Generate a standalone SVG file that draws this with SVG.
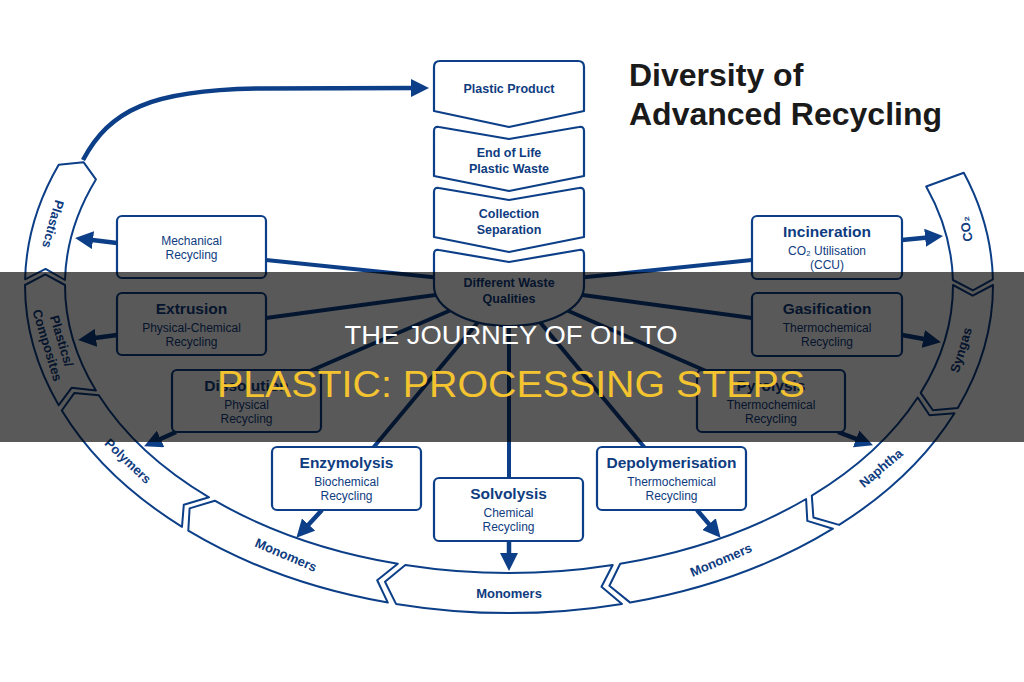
<svg xmlns="http://www.w3.org/2000/svg" width="1024" height="682" viewBox="0 0 1024 682">
<defs>
<style>
.bx{fill:#fff;stroke:#0c3f87;stroke-width:2.2;stroke-linejoin:round}
.seg{fill:#fff;stroke:#0c3f87;stroke-width:2;stroke-linejoin:round}
.ln{stroke:#0c3f87;stroke-width:4;fill:none}
.ar{stroke:#0c3f87;stroke-width:4.5;fill:none;marker-end:url(#ah)}
.h{font-family:"Liberation Sans",Arial,sans-serif;font-weight:bold;font-size:15.5px;fill:#0f3c80;text-anchor:middle}
.s{font-family:"Liberation Sans","DejaVu Sans",Arial,sans-serif;font-size:12px;fill:#0f3c80;text-anchor:middle}
.c{font-family:"Liberation Sans",Arial,sans-serif;font-weight:bold;font-size:12.5px;fill:#0f3c80;text-anchor:middle}
.g{font-family:"Liberation Sans","DejaVu Sans",Arial,sans-serif;font-weight:bold;font-size:13px;fill:#0f3c80;text-anchor:middle;dominant-baseline:central}
.t{font-family:"Liberation Sans",Arial,sans-serif;font-weight:bold;font-size:32px;fill:#1a1a1a}
</style>
<marker id="ah" viewBox="0 0 18 18" refX="5" refY="9" markerWidth="18" markerHeight="18" markerUnits="userSpaceOnUse" orient="auto"><path d="M0,0 L18,9 L0,18 z" fill="#0c3f87"/></marker>
</defs>
<rect width="1024" height="682" fill="#fff"/>

<g id="title">
<text class="t" x="629" y="86">Diversity of</text>
<text class="t" x="629" y="125">Advanced Recycling</text>
</g>

<g id="connectors">
<line class="ln" x1="509" y1="285" x2="266" y2="260"/>
<line class="ln" x1="509" y1="285" x2="266" y2="318"/>
<line class="ln" x1="509" y1="285" x2="310" y2="371"/>
<line class="ln" x1="509" y1="285" x2="373" y2="448"/>
<line class="ln" x1="509" y1="285" x2="509" y2="479"/>
<line class="ln" x1="509" y1="285" x2="645" y2="448"/>
<line class="ln" x1="509" y1="285" x2="706" y2="371"/>
<line class="ln" x1="509" y1="285" x2="752" y2="318"/>
<line class="ln" x1="509" y1="285" x2="752" y2="260"/>
<path class="ar" d="M83,160 C110,110 150,90 260,88.5 L416,88"/>
<line class="ar" x1="117" y1="243" x2="88" y2="239.5"/>
<line class="ar" x1="117" y1="335" x2="91" y2="338.4"/>
<line class="ar" x1="176" y1="432" x2="156" y2="441"/>
<line class="ar" x1="322" y1="510" x2="305.2" y2="528.2"/>
<line class="ar" x1="509" y1="541" x2="509" y2="558"/>
<line class="ar" x1="697" y1="510" x2="712.2" y2="527.9"/>
<line class="ar" x1="838" y1="432" x2="860.8" y2="440.7"/>
<line class="ar" x1="902" y1="335" x2="928.2" y2="339.8"/>
<line class="ar" x1="902" y1="240" x2="930.1" y2="237.2"/>
</g>

<g id="plastic-product">
<path class="bx" d="M434,67 Q434,61 440,61 L578,61 Q584,61 584,67 L584,111 L509,127 L434,111 Z"/>
<text class="c" x="509" y="93">Plastic Product</text>
</g>
<g id="end-of-life">
<path class="bx" d="M434,131 Q434,126 439,127 L509,139 L579,127 Q584,126 584,131 L584,176 L509,191 L434,176 Z"/>
<text class="c" x="509" y="157">End of Life</text>
<text class="c" x="509" y="173">Plastic Waste</text>
</g>
<g id="collection">
<path class="bx" d="M434,192 Q434,187 439,188 L509,200 L579,188 Q584,187 584,192 L584,237 L509,252 L434,237 Z"/>
<text class="c" x="509" y="218">Collection</text>
<text class="c" x="509" y="234">Separation</text>
</g>
<g id="waste-qualities">
<path class="bx" d="M434,254 Q434,249 439,250 L509,262 L579,250 Q584,249 584,254 L584,286 A75,40 0 0 1 434,286 Z"/>
<text class="c" x="509" y="287">Different Waste</text>
<text class="c" x="509" y="303">Qualities</text>
</g>

<g id="mechanical">
<rect class="bx" x="117" y="216" width="149" height="62" rx="5"/>
<text class="s" x="191.5" y="245">Mechanical</text>
<text class="s" x="191.5" y="259">Recycling</text>
</g>
<g id="extrusion">
<rect class="bx" x="117" y="293" width="149" height="62" rx="5"/>
<text class="h" x="191.5" y="314">Extrusion</text>
<text class="s" x="191.5" y="332">Physical-Chemical</text>
<text class="s" x="191.5" y="346">Recycling</text>
</g>
<g id="dissolution">
<rect class="bx" x="172" y="370" width="149" height="62" rx="5"/>
<text class="h" x="246.5" y="391">Dissolution</text>
<text class="s" x="246.5" y="409">Physical</text>
<text class="s" x="246.5" y="423">Recycling</text>
</g>
<g id="enzymolysis">
<rect class="bx" x="272" y="447" width="149" height="63" rx="5"/>
<text class="h" x="346.5" y="468">Enzymolysis</text>
<text class="s" x="346.5" y="486">Biochemical</text>
<text class="s" x="346.5" y="500">Recycling</text>
</g>
<g id="solvolysis">
<rect class="bx" x="434" y="478" width="149" height="63" rx="5"/>
<text class="h" x="508.5" y="499">Solvolysis</text>
<text class="s" x="508.5" y="517">Chemical</text>
<text class="s" x="508.5" y="531">Recycling</text>
</g>
<g id="depolymerisation">
<rect class="bx" x="597" y="447" width="149" height="63" rx="5"/>
<text class="h" x="671.5" y="468">Depolymerisation</text>
<text class="s" x="671.5" y="486">Thermochemical</text>
<text class="s" x="671.5" y="500">Recycling</text>
</g>
<g id="pyrolysis">
<rect class="bx" x="697" y="370" width="148" height="62" rx="5"/>
<text class="h" x="771" y="391">Pyrolysis</text>
<text class="s" x="771" y="409">Thermochemical</text>
<text class="s" x="771" y="423">Recycling</text>
</g>
<g id="gasification">
<rect class="bx" x="752" y="293" width="150" height="63" rx="5"/>
<text class="h" x="827" y="314">Gasification</text>
<text class="s" x="827" y="332">Thermochemical</text>
<text class="s" x="827" y="346">Recycling</text>
</g>
<g id="incineration">
<rect class="bx" x="752" y="216" width="150" height="63" rx="5"/>
<text class="h" x="827" y="237">Incineration</text>
<text class="s" x="827" y="255">CO₂ Utilisation</text>
<text class="s" x="827" y="269">(CCU)</text>
</g>

<g id="seg-co2">
<path class="seg" d="M963.8,172.8 A484,328 0 0 1 992.9,279.3 L972.9,290.4 L952.9,280 A444,288 0 0 0 926.2,186.5 Z"/>
<text class="g" transform="translate(966,229) rotate(-100)">CO₂</text>
</g>
<g id="seg-syngas">
<path class="seg" d="M993,285 A484,328 0 0 1 957.8,407.9 L932.9,410.3 L920.7,392.9 A444,288 0 0 0 953,285 L972.7,295.7 Z"/>
<text class="g" transform="translate(961,350) rotate(-73)">Syngas</text>
</g>
<g id="seg-naphtha">
<path class="seg" d="M954.5,413.2 A484,328 0 0 1 839.1,524.9 L813.4,517.5 L811.8,495.6 A444,288 0 0 0 917.7,397.5 L929.5,415.2 Z"/>
<text class="g" transform="translate(881,468) rotate(-40)">Naphtha</text>
</g>
<g id="seg-monomers-r">
<path class="seg" d="M832.9,528.7 A484,328 0 0 1 630.2,602.6 L609.4,585.7 L620.2,563.8 A444,288 0 0 0 806.1,499 L807.3,520.9 Z"/>
<text class="g" transform="translate(721,560) rotate(-23)">Monomers</text>
</g>
<g id="seg-monomers-c">
<path class="seg" d="M622,603.9 A484,328 0 0 1 396,603.9 L385,581.8 L405.3,565 A444,288 0 0 0 612.7,565 L601.5,586.8 Z"/>
<text class="g" x="509" y="593">Monomers</text>
</g>
<g id="seg-monomers-l">
<path class="seg" d="M387.8,602.6 A484,328 0 0 1 188.3,530.7 L189.6,508.4 L214.8,500.7 A444,288 0 0 0 397.8,563.8 L377.2,580.3 Z"/>
<text class="g" transform="translate(286,555) rotate(23)">Monomers</text>
</g>
<g id="seg-polymers">
<path class="seg" d="M182,526.8 A484,328 0 0 1 61.8,410.5 L74.4,392.9 L98.8,395.2 A444,288 0 0 0 209,497.3 L183.8,504.7 Z"/>
<text class="g" transform="translate(128,461) rotate(44)">Polymers</text>
</g>
<g id="seg-composites">
<path class="seg" d="M58.7,405.2 A484,328 0 0 1 25,285 L45.3,274.3 L65,285 A444,288 0 0 0 95.9,390.6 L71.6,387.8 Z"/>
<text class="g" transform="translate(55,343) rotate(73)"><tspan x="0" y="-7.5">Plastics/</tspan><tspan x="0" y="7.5">Composites</tspan></text>
</g>
<g id="seg-plastics">
<path class="seg" d="M25.1,279.3 A484,328 0 0 1 58.7,164.8 L83.5,162.2 L95.9,179.4 A444,288 0 0 0 65,280 L45.6,268.9 Z"/>
<text class="g" transform="translate(53,224) rotate(106)">Plastics</text>
</g>

<g id="banner">
<rect x="0" y="272" width="1024" height="170" fill="#000" fill-opacity="0.65"/>
<text x="511" y="344" font-family="Liberation Sans, Arial, sans-serif" font-size="25" fill="#fff" text-anchor="middle" textLength="333" lengthAdjust="spacingAndGlyphs">THE JOURNEY OF OIL TO</text>
<text x="511" y="397" font-family="Liberation Sans, Arial, sans-serif" font-size="36" fill="#f4c430" text-anchor="middle" textLength="588" lengthAdjust="spacingAndGlyphs">PLASTIC: PROCESSING STEPS</text>
</g>
</svg>
